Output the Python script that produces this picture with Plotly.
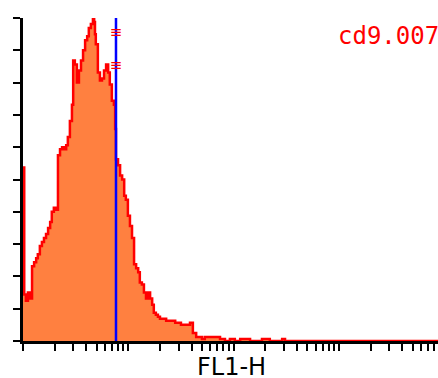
import plotly.graph_objects as go

# FL1-H histogram (channel index on a 1024-channel / 4-decade log scale, and counts)
channels = [0, 3, 7, 12, 17, 22, 27, 32, 36, 41, 46, 51, 56, 61, 66, 70, 75, 80, 85, 90,
            95, 100, 105, 109, 114, 119, 122, 126, 131, 136, 141, 146, 151, 156, 160, 165,
            170, 173, 175, 177, 182, 187, 192, 197, 202, 207, 211, 216, 221, 224, 226, 231,
            236, 241, 246, 250, 255, 260, 265, 270, 275, 280, 284, 289, 294, 299, 304, 309,
            314, 318, 323, 328, 333, 340, 348, 355, 362, 370, 377, 384, 391, 399, 406, 413,
            421, 428, 435, 442, 455, 467, 479, 491, 503, 515, 528, 540, 552, 581, 591, 600,
            630, 637, 1023]
counts = [86, 23, 20, 24, 21, 37, 39, 41, 43, 47, 49, 51, 53, 56, 59, 64, 66, 65, 92, 95,
          96, 95, 97, 101, 109, 117, 139, 137, 128, 134, 139, 144, 149, 151, 155, 157,
          160, 158, 152, 147, 133, 129, 130, 134, 137, 133, 127, 119, 117, 105, 90, 87,
          82, 80, 72, 70, 62, 57, 51, 38, 36, 34, 29, 28, 24, 21, 24, 21,
          18, 14, 13, 12, 11, 11, 10, 10, 10, 9, 9, 8, 8, 8, 9, 4,
          2, 2, 1, 2, 2, 2, 1, 0, 1, 0, 1, 1, 0, 1, 1, 0,
          1, 0, 0]

marker_value = 7.64          # FL1-H position of the blue marker line
marker_label_counts = [152.5, 136]
sample_name = "cd9.007"
x_title = "FL1-H"

y_max = 160
y_ticks = list(range(0, y_max + 1, 16))
x_ticks = [k * 10 ** n for n in range(0, 4) for k in range(1, 10)] + [10000]

fl1 = [10 ** (c / 256) for c in channels]

fig = go.Figure()
fig.add_trace(go.Scatter(
    x=fl1, y=counts, mode="lines", line=dict(color="#FF0000", width=2.5, shape="hv"),
    fill="tozeroy", fillcolor="#FF8040", hoverinfo="skip", showlegend=False))
fig.add_trace(go.Scatter(
    x=[marker_value, marker_value], y=[0, y_max], mode="lines",
    line=dict(color="#0000FF", width=2.5), hoverinfo="skip", showlegend=False))
fig.add_trace(go.Scatter(
    x=[marker_value] * len(marker_label_counts), y=marker_label_counts, mode="text",
    text=["≡"] * len(marker_label_counts), textposition="middle center",
    textfont=dict(color="#FF0000", size=15, family="DejaVu Sans"),
    hoverinfo="skip", showlegend=False, cliponaxis=False))

fig.update_layout(
    width=438, height=378,
    margin=dict(l=23, r=0, t=18, b=37, autoexpand=False),
    paper_bgcolor="white", plot_bgcolor="white",
    xaxis=dict(type="log", range=[0, 3.941], tickvals=x_ticks,
               showticklabels=False, ticks="outside", ticklen=7, tickwidth=2,
               tickcolor="black", showline=True, linecolor="black", linewidth=2.5,
               showgrid=False, zeroline=False),
    yaxis=dict(range=[0, y_max], tickvals=y_ticks, showticklabels=False,
               ticks="outside", ticklen=7, tickwidth=2, tickcolor="black",
               showline=True, linecolor="black", linewidth=2.5,
               showgrid=False, zeroline=False),
    annotations=[
        dict(text=sample_name, xref="paper", yref="paper", x=0.754, y=0.944,
             xanchor="left", yanchor="middle", showarrow=False,
             font=dict(family="DejaVu Sans Mono", size=24, color="#FF0000")),
        dict(text=x_title, xref="paper", yref="paper", x=0.5036, y=-0.032,
             xanchor="center", yanchor="top", showarrow=False,
             font=dict(family="DejaVu Sans", size=24, color="black")),
    ],
)

fig.write_html(
    "out.html", config={"displayModeBar": False},
    post_script="document.body.style.margin='0';document.body.style.overflow='hidden';")
